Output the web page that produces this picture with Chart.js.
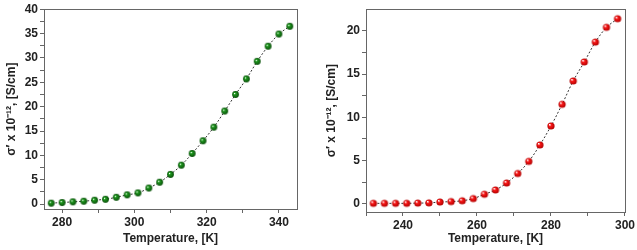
<!DOCTYPE html>
<html>
<head>
<meta charset="utf-8">
<script src="https://cdn.jsdelivr.net/npm/chart.js@4/dist/chart.umd.min.js"></script>
<style>
  body { margin: 0; background: #fff; }
  .panel { position: absolute; top: 0; }
</style>
</head>
<body>
<div class="panel" style="left:0"><canvas id="left-chart" width="305" height="250"></canvas></div>
<div class="panel" style="left:320px"><canvas id="right-chart" width="317" height="250"></canvas></div>
<script>
// Left panel: temperature [K] vs sigma' x 1e-12 [S/cm]
const leftTemps = [277, 280, 283, 286, 289, 292, 295, 298, 301, 304, 307, 310, 313, 316, 319, 322, 325, 328, 331, 334, 337, 340, 343];
const leftSigma = [0.2, 0.33, 0.47, 0.6, 0.8, 1.0, 1.4, 1.9, 2.3, 3.3, 4.5, 6.1, 8.0, 10.4, 13.0, 15.8, 19.1, 22.5, 25.7, 29.3, 32.4, 34.9, 36.5];
const leftXTicks = [280, 300, 320, 340];
const leftXMinor = [290, 310, 330];
const leftYTicks = [0, 5, 10, 15, 20, 25, 30, 35, 40];
const leftYMinor = [2.5, 7.5, 12.5, 17.5, 22.5, 27.5, 32.5, 37.5];

// Right panel
const rightTemps = [232, 235, 238, 241, 244, 247, 250, 253, 256, 259, 262, 265, 268, 271, 274, 277, 280, 283, 286, 289, 292, 295, 298];
const rightSigma = [0.05, 0.05, 0.05, 0.05, 0.08, 0.1, 0.2, 0.25, 0.35, 0.6, 1.1, 1.6, 2.4, 3.5, 4.9, 6.8, 9.0, 11.5, 14.2, 16.4, 18.7, 20.4, 21.4];
const rightXTicks = [240, 260, 280, 300];
const rightXMinor = [230, 250, 270, 290];
const rightYTicks = [0, 5, 10, 15, 20];
const rightYMinor = [2.5, 7.5, 12.5, 17.5];

const xTitle = 'Temperature, [K]';
const yTitle = 'σ\u2032 x 10\u207B\u00B9\u00B2, [S/cm]';

// shaded ball marker, drawn once and used as pointStyle
function makeBall(r, base, dark) {
  const c = document.createElement('canvas');
  const s = Math.ceil(r * 2) + 2;
  c.width = s; c.height = s;
  const g = c.getContext('2d');
  const cx = s / 2, cy = s / 2;
  const grad = g.createRadialGradient(cx - r * 0.35, cy - r * 0.35, r * 0.1, cx, cy, r);
  grad.addColorStop(0, '#ffffff');
  grad.addColorStop(0.25, base);
  grad.addColorStop(1, dark);
  g.fillStyle = grad;
  g.beginPath();
  g.arc(cx, cy, r, 0, Math.PI * 2);
  g.fill();
  return c;
}

// box around the plot area
const framePlugin = {
  id: 'frame',
  afterDraw(chart) {
    const a = chart.chartArea, ctx = chart.ctx;
    ctx.save();
    ctx.strokeStyle = '#666';
    ctx.lineWidth = 1;
    ctx.strokeRect(Math.round(a.left) + 0.5, Math.round(a.top) + 0.5, Math.round(a.right - a.left), Math.round(a.bottom - a.top));
    ctx.restore();
  }
};

const tickFont = { family: 'Liberation Sans, Arial, sans-serif', size: 12, weight: 'bold' };
const titleFont = { family: 'Liberation Sans, Arial, sans-serif', size: 12, weight: 'bold' };

function axis(min, max, majors, minors, size, isX) {
  return {
    type: 'linear',
    min: min,
    max: max,
    afterBuildTicks: scale => {
      scale.ticks = majors.concat(minors).sort((a, b) => a - b).map(v => ({ value: v }));
    },
    afterFit: scale => {
      if (isX) scale.height = size; else scale.width = size;
    },
    ticks: {
      autoSkip: false,
      maxRotation: 0,
      color: '#222',
      font: tickFont,
      padding: 2,
      callback: v => majors.includes(v) ? String(v) : ''
    },
    grid: { drawOnChartArea: false, drawTicks: true, tickLength: 4, color: '#666' },
    border: { display: true, color: '#666' },
    title: {
      display: true,
      text: isX ? xTitle : yTitle,
      color: '#222',
      font: titleFont,
      padding: isX ? { top: 5 } : { bottom: 2 }
    }
  };
}

function makeChart(id, temps, sigma, ball, xr, yr, pad, ySize, xSize) {
  const ctx = document.getElementById(id).getContext('2d');
  return new Chart(ctx, {
    type: 'line',
    data: {
      datasets: [{
        data: temps.map((t, i) => ({ x: t, y: sigma[i] })),
        borderColor: '#333',
        borderWidth: 1,
        borderDash: [2, 2],
        tension: 0.35,
        pointStyle: ball,
        pointRadius: 4
      }]
    },
    options: {
      responsive: false,
      animation: false,
      devicePixelRatio: 1,
      layout: { padding: pad },
      plugins: { legend: { display: false }, tooltip: { enabled: false } },
      scales: {
        x: axis(xr[0], xr[1], xr[2], xr[3], xSize, true),
        y: axis(yr[0], yr[1], yr[2], yr[3], ySize, false)
      }
    },
    plugins: [framePlugin]
  });
}

const greenBall = makeBall(3.4, '#1e9a1e', '#0a4f0a');
const redBall = makeBall(3.6, '#ff1a1a', '#b00000');

makeChart('left-chart', leftTemps, leftSigma, greenBall,
  [275, 345, leftXTicks, leftXMinor], [-1, 40, leftYTicks, leftYMinor],
  { top: 5, right: 8, left: 0, bottom: 0 }, 44, 41);

makeChart('right-chart', rightTemps, rightSigma, redBall,
  [230, 300, rightXTicks, rightXMinor], [-0.95, 22.5, rightYTicks, rightYMinor],
  { top: 2, right: 9, left: 0, bottom: 0 }, 46, 38);
</script>
</body>
</html>
